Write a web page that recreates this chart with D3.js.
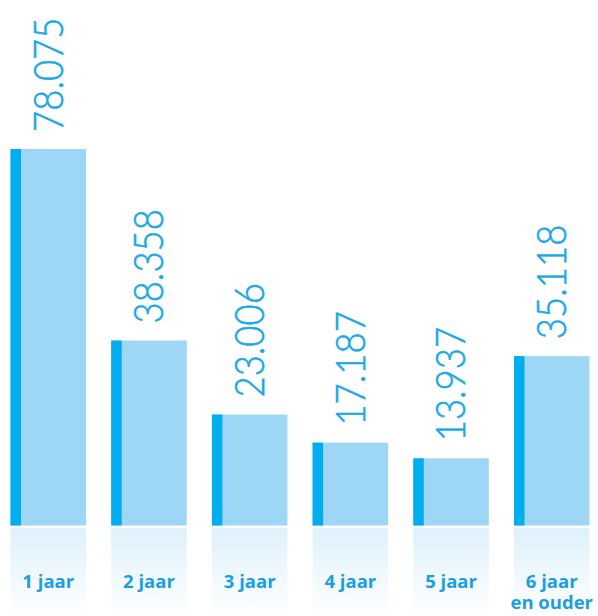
<!DOCTYPE html>
<html>
<head>
<meta charset="utf-8">
<script src="https://cdn.jsdelivr.net/npm/d3@7"></script>
<style>
  body { margin: 0; background: #fff; }
  svg { display: block; }
</style>
</head>
<body>
<div id="grafiek"></div>
<script>
// data
var categorieen = ["1 jaar", "2 jaar", "3 jaar", "4 jaar", "5 jaar", "6 jaar|en ouder"];
var waarden = [78075, 38358, 23006, 17187, 13937, 35118];
var labels = ["78.075", "38.358", "23.006", "17.187", "13.937", "35.118"];

var largeur = 598, hauteur = 616;
var basis = 525.5;

var svg = d3.select("#grafiek")
  .append("svg")
  .attr("width", largeur)
  .attr("height", hauteur);

var x = d3.scaleBand()
  .domain(categorieen)
  .range([10.5, 589.5])
  .paddingInner(0.25)
  .paddingOuter(0);

var y = d3.scaleLinear()
  .domain([0, 78075])
  .range([basis, 149]);

// verloop voor de labelvakken
var grad = svg.append("defs").append("linearGradient")
  .attr("id", "verloop")
  .attr("x1", 0).attr("y1", 0).attr("x2", 0).attr("y2", 1);
grad.append("stop").attr("offset", "0%").attr("stop-color", "#def1fb");
grad.append("stop").attr("offset", "100%").attr("stop-color", "#ffffff");

var groep = svg.selectAll(".staaf")
  .data(categorieen)
  .enter()
  .append("g")
  .attr("class", "staaf");

// lichte staaf
groep.append("rect")
  .attr("x", function(d){ return x(d); })
  .attr("y", function(d, i){ return y(waarden[i]); })
  .attr("width", x.bandwidth())
  .attr("height", function(d, i){ return basis - y(waarden[i]); })
  .attr("fill", "#9dd7f5");

// donkere rand links
groep.append("rect")
  .attr("x", function(d){ return x(d); })
  .attr("y", function(d, i){ return y(waarden[i]); })
  .attr("width", 10.5)
  .attr("height", function(d, i){ return basis - y(waarden[i]); })
  .attr("fill", "#00aeef");

// labelvak
groep.append("rect")
  .attr("x", function(d){ return x(d); })
  .attr("y", 528)
  .attr("width", x.bandwidth())
  .attr("height", hauteur - 528)
  .attr("fill", "url(#verloop)");

// waarden, gedraaid (smaller gemaakt)
groep.append("text")
  .attr("transform", function(d, i){
    return "translate(" + (x(d) + 52) + "," + (y(waarden[i]) - 17) + ") rotate(-90) scale(0.87,1)";
  })
  .attr("font-family", "Lato, sans-serif")
  .attr("font-weight", 300)
  .attr("font-size", "42px")
  .attr("fill", "#1ba8e6")
  .attr("stroke", "#1ba8e6")
  .attr("stroke-width", 0.6)
  .text(function(d, i){ return labels[i]; });

// categorie labels
var cat = groep.append("text")
  .attr("x", function(d){ return x(d) + x.bandwidth() / 2; })
  .attr("y", 588)
  .attr("text-anchor", "middle")
  .attr("font-family", "'Open Sans', sans-serif")
  .attr("font-weight", 700)
  .attr("font-size", "18.5px")
  .attr("fill", "#1a9fe0");

cat.each(function(d){
  var regels = d.split("|");
  var t = d3.select(this);
  regels.forEach(function(r, k){
    t.append("tspan")
      .attr("x", t.attr("x"))
      .attr("dy", k == 0 ? 0 : 21)
      .text(r);
  });
});
</script>
</body>
</html>
